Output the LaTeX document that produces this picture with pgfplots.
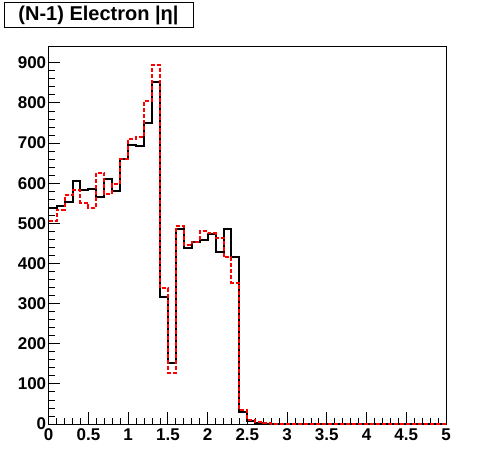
\documentclass[border=0pt]{standalone}
\usepackage{pgfplots}
\pgfplotsset{compat=1.18}
\usepackage{fontspec}
\setmainfont{Liberation Sans}

% 50 bins of width 0.1 on [0,5]; left bin edge, content
\pgfplotstableread{
x    y
0.0  537
0.1  543
0.2  553
0.3  606
0.4  582
0.5  586
0.6  566
0.7  611
0.8  580
0.9  659
1.0  694
1.1  692
1.2  750
1.3  852
1.4  317
1.5  153
1.6  487
1.7  438
1.8  454
1.9  458
2.0  473
2.1  429
2.2  486
2.3  417
2.4  31
2.5  8
2.6  3
2.7  1
2.8  0
5.0  0
}\blackhist

\pgfplotstableread{
x    y
0.0  506
0.1  534
0.2  570
0.3  582
0.4  551
0.5  539
0.6  626
0.7  572
0.8  597
0.9  659
1.0  711
1.1  714
1.2  805
1.3  895
1.4  339
1.5  128
1.6  494
1.7  446
1.8  454
1.9  480
2.0  476
2.1  464
2.2  415
2.3  352
2.4  35
2.5  9
2.6  4
2.7  2
2.8  0
5.0  0
}\redhist

\begin{document}
\begin{tikzpicture}
\useasboundingbox[fill=white] (0,0) rectangle (496bp,472bp);
\begin{axis}[
  at={(48.7bp,48bp)}, anchor=south west,
  scale only axis,
  width=397.3bp, height=377.3bp,
  xmin=0, xmax=5, ymin=0, ymax=940,
  xtick={0,0.5,...,5}, ytick={0,100,...,900},
  minor x tick num=4, minor y tick num=4,
  tick align=inside, tick pos=left,
  major tick length=11.5bp, minor tick length=6bp,
  axis line style={line width=1bp},
  every tick/.style={black, line width=0.8bp},
  /pgf/number format/assume math mode=true,
  tick label style={font=\fontsize{17bp}{17bp}\selectfont\bfseries},
  xticklabel style={yshift=-1bp},
  yticklabel style={xshift=1bp},
  clip=false,
]
\addplot[const plot, black, line width=2bp] table[x=x, y=y] {\blackhist};
\addplot[const plot, red, line width=2bp, dash pattern=on 4bp off 2bp] table[x=x, y=y] {\redhist};
\end{axis}
\draw[line width=1bp] (4bp,444bp) rectangle (193bp,469.3bp);
\node[font=\fontsize{20bp}{20bp}\selectfont\bfseries] at (98.5bp,456.6bp) {(N-1) Electron |η|};
\end{tikzpicture}
\end{document}
